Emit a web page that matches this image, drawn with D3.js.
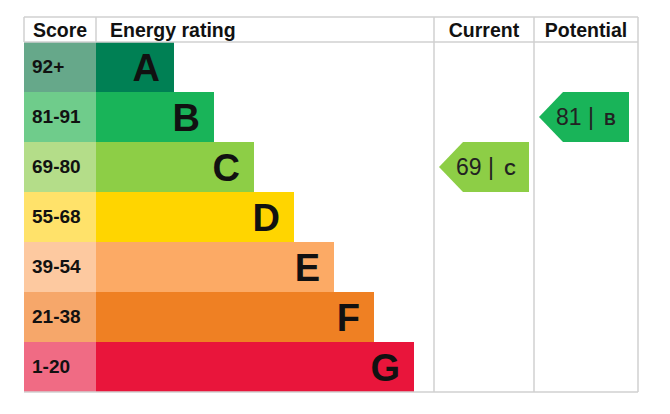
<!DOCTYPE html>
<html>
<head>
<meta charset="utf-8">
<script src="https://cdn.jsdelivr.net/npm/d3@7"></script>
<style>
  body { margin: 0; background: #fff; }
  text { font-family: Arial, "Liberation Sans", sans-serif; fill: #111; }
</style>
</head>
<body>
<svg id="chart" width="670" height="414"></svg>
<script>
// energy performance chart
var bands = ["A", "B", "C", "D", "E", "F", "G"]
var scores = ["92+", "81-91", "69-80", "55-68", "39-54", "21-38", "1-20"]
var minScore = [92, 81, 69, 55, 39, 21, 1]
var bandColors = ["#008054", "#19b459", "#8dce46", "#ffd500", "#fcaa65", "#ef8023", "#e9153b"]
var scoreColors = ["#66a88a", "#6fcc8b", "#b4dd89", "#ffe26a", "#fdc9a0", "#f6a76a", "#f06b84"]
var headers = ["Score", "Energy rating", "Current", "Potential"]
var current = 69
var potential = 81

var svg = d3.select('#chart')

var left = 24, topY = 17, headH = 25
var colEdges = [24, 96, 434, 534, 638]

var y = d3.scaleBand().domain(bands).range([topY + headH, topY + headH + 50 * bands.length])
// bar end position by band index
var barEnd = d3.scaleLinear().domain([0, 6]).range([174, 414])

function bandOf(v) {
  return bands[minScore.findIndex(m => v >= m)]
}

// score cells
svg.selectAll('rect.score').data(bands).enter().append('rect')
  .attr('x', colEdges[0]).attr('y', d => y(d))
  .attr('width', colEdges[1] - colEdges[0]).attr('height', y.bandwidth())
  .attr('fill', (d, i) => scoreColors[i])

svg.selectAll('text.score').data(scores).enter().append('text')
  .attr('x', 32).attr('y', (d, i) => y(bands[i]) + y.bandwidth() / 2 - 1)
  .attr('dy', '0.36em')
  .style('font-size', '19px').style('font-weight', 'bold')
  .text(d => d)

// rating bars
svg.selectAll('rect.bar').data(bands).enter().append('rect')
  .attr('x', colEdges[1]).attr('y', d => y(d))
  .attr('width', (d, i) => barEnd(i) - colEdges[1]).attr('height', y.bandwidth())
  .attr('fill', (d, i) => bandColors[i])

svg.selectAll('text.bar').data(bands).enter().append('text')
  .attr('x', (d, i) => barEnd(i) - 14).attr('y', d => y(d) + y.bandwidth() / 2)
  .attr('dy', '0.36em').attr('text-anchor', 'end')
  .style('font-size', '38px').style('font-weight', 'bold')
  .text(d => d)

// grid lines
var grid = svg.append('g').attr('stroke', '#d0d0d0').attr('stroke-width', 1.5).attr('fill', 'none')
grid.append('line').attr('x1', left).attr('x2', colEdges[4]).attr('y1', topY).attr('y2', topY)
grid.append('line').attr('x1', left).attr('x2', colEdges[4]).attr('y1', topY + headH).attr('y2', topY + headH)
grid.append('line').attr('x1', left).attr('x2', colEdges[4]).attr('y1', y.range()[1]).attr('y2', y.range()[1])
colEdges.forEach(function(x, i) {
  grid.append('line').attr('x1', x).attr('x2', x)
    .attr('y1', topY).attr('y2', (i == 0 || i == 1) ? topY + headH : y.range()[1])
})

// headers
svg.selectAll('text.head').data(headers).enter().append('text')
  .attr('x', (d, i) => i == 0 ? 33 : i == 1 ? 110 : (colEdges[i] + colEdges[i + 1]) / 2)
  .attr('y', topY + headH / 2).attr('dy', '0.36em')
  .attr('text-anchor', (d, i) => i < 2 ? 'start' : 'middle')
  .style('font-size', '19.5px').style('font-weight', 'bold')
  .text(d => d)

// arrows
function arrow(value, col) {
  var b = bandOf(value), i = bands.indexOf(b)
  var x0 = colEdges[col] + 5, x1 = colEdges[col] + 95
  var y0 = y(b), h = y.bandwidth()
  var g = svg.append('g')
  g.append('path')
    .attr('d', d3.line()([[x0, y0 + h / 2], [x0 + 24, y0], [x1, y0], [x1, y0 + h], [x0 + 24, y0 + h]]) + 'Z')
    .attr('fill', bandColors[i])
  var t = g.append('text').attr('x', x0 + 17).attr('y', y0 + h / 2).attr('dy', '0.36em')
    .style('font-size', '23px').style('fill', '#222')
  t.append('tspan').text(value + ' | ')
  t.append('tspan').attr('dx', 4).style('font-size', '16px').style('font-weight', 'bold').text(b)
}
arrow(current, 2)
arrow(potential, 3)
</script>
</body>
</html>
